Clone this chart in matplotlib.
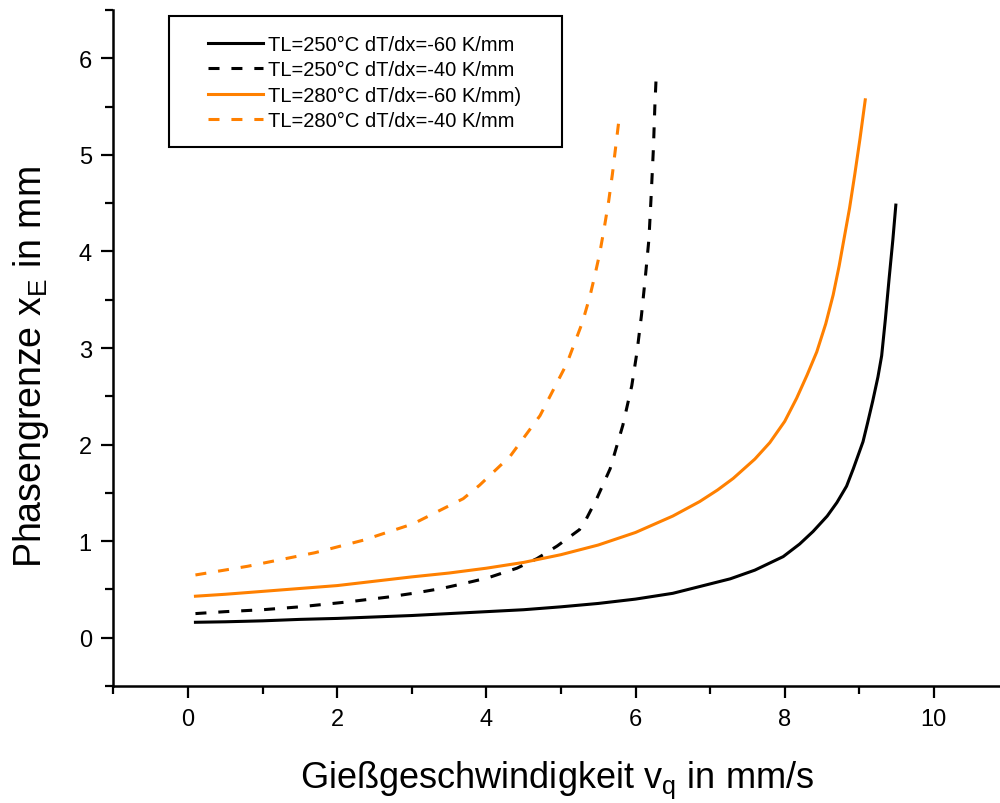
import matplotlib
matplotlib.use("Agg")
import matplotlib.pyplot as plt
from matplotlib.ticker import MultipleLocator
from matplotlib.patches import Rectangle
from matplotlib.lines import Line2D

plt.rcParams['font.family'] = ['Liberation Sans', 'DejaVu Sans']
plt.rcParams['mathtext.default'] = 'regular'

# Casting speed v_q (mm/s) and phase boundary position x_E (mm)
v_250_60 = [0.1, 0.5, 1.0, 1.5, 2.0, 2.5, 3.0, 3.5, 4.0, 4.5, 5.0, 5.5, 6.0, 6.5,
            6.86, 7.27, 7.6, 7.98, 8.2, 8.38, 8.57, 8.7, 8.83, 8.92, 9.05, 9.11,
            9.18, 9.25, 9.30, 9.35, 9.40, 9.45, 9.49]
x_250_60 = [0.16, 0.165, 0.175, 0.19, 0.20, 0.215, 0.23, 0.25, 0.27, 0.29, 0.32,
            0.355, 0.40, 0.46, 0.53, 0.61, 0.70, 0.84, 0.97, 1.10, 1.26, 1.40,
            1.57, 1.75, 2.03, 2.22, 2.45, 2.70, 2.92, 3.30, 3.72, 4.12, 4.48]

v_250_40 = [0.1, 0.5, 1.0, 1.5, 2.13, 2.67, 3.02, 3.4, 3.69, 4.02, 4.41, 4.68,
            4.95, 5.25, 5.34, 5.48, 5.66, 5.83, 5.95, 6.02, 6.08, 6.13, 6.18,
            6.21, 6.24, 6.26, 6.28]
x_250_40 = [0.25, 0.27, 0.29, 0.32, 0.37, 0.42, 0.46, 0.51, 0.56, 0.62, 0.72, 0.82,
            0.95, 1.12, 1.23, 1.44, 1.75, 2.20, 2.61, 2.96, 3.34, 3.72, 4.13,
            4.58, 5.07, 5.52, 5.86]

v_280_60 = [0.1, 0.5, 1.0, 1.5, 2.0, 2.5, 3.0, 3.5, 4.0, 4.5, 5.0, 5.5, 6.0, 6.5,
            6.86, 7.1, 7.31, 7.6, 7.80, 8.0, 8.16, 8.30, 8.43, 8.55, 8.65, 8.73,
            8.80, 8.87, 8.94, 9.01, 9.08]
x_280_60 = [0.43, 0.45, 0.48, 0.51, 0.54, 0.585, 0.63, 0.67, 0.72, 0.78, 0.86,
            0.96, 1.09, 1.26, 1.41, 1.53, 1.65, 1.85, 2.02, 2.24, 2.48, 2.72,
            2.96, 3.25, 3.55, 3.85, 4.15, 4.45, 4.80, 5.17, 5.57]

v_280_40 = [0.1, 0.8, 1.7, 2.35, 3.02, 3.69, 3.91, 4.32, 4.72, 5.08, 5.29, 5.39,
            5.46, 5.52, 5.58, 5.64, 5.69, 5.74, 5.79]
x_280_40 = [0.65, 0.74, 0.88, 1.01, 1.18, 1.44, 1.58, 1.88, 2.30, 2.84, 3.27, 3.54,
            3.77, 3.98, 4.24, 4.52, 4.80, 5.12, 5.44]

labels = ["TL=250°C dT/dx=-60 K/mm",
          "TL=250°C dT/dx=-40 K/mm",
          "TL=280°C dT/dx=-60 K/mm)",
          "TL=280°C dT/dx=-40 K/mm"]

ORANGE = '#ff8000'
DASH = (0, (3.6, 3.9))
LW = 2.2

fig = plt.figure(figsize=(10, 8.04), dpi=100)
ax = fig.add_axes([0.1134, 0.1455, 0.8876, 0.8408])

ax.plot(v_250_60, x_250_60, color='black', lw=LW, ls='-')
ax.plot(v_250_40, x_250_40, color='black', lw=LW, ls=DASH)
ax.plot(v_280_60, x_280_60, color=ORANGE, lw=LW, ls='-')
ax.plot(v_280_40, x_280_40, color=ORANGE, lw=LW, ls=DASH)

ax.set_xlim(-1, 10.9)
ax.set_ylim(-0.5, 6.5)
ax.xaxis.set_major_locator(MultipleLocator(2))
ax.xaxis.set_minor_locator(MultipleLocator(1))
ax.yaxis.set_major_locator(MultipleLocator(1))
ax.yaxis.set_minor_locator(MultipleLocator(0.5))

for side in ('top', 'right'):
    ax.spines[side].set_visible(False)
for side in ('left', 'bottom'):
    ax.spines[side].set_linewidth(1.8)

ax.tick_params(which='major', direction='out', length=8.5, width=1.6,
               labelsize=17, pad=7)
ax.tick_params(which='minor', direction='out', length=5.5, width=1.6)

ax.set_xlabel("Gießgeschwindigkeit v$_{q}$ in mm/s", fontsize=26, labelpad=21)
ax.set_ylabel("Phasengrenze x$_{E}$ in mm", fontsize=27, labelpad=20, y=0.474)

# Legend box
fig.add_artist(Rectangle((0.169, 1 - 148 / 804), 0.393, 131 / 804,
                         transform=fig.transFigure, facecolor='white',
                         edgecolor='black', lw=1.5, zorder=4))
handles = [Line2D([], [], color='black', lw=LW, ls='-'),
           Line2D([], [], color='black', lw=LW, ls=DASH),
           Line2D([], [], color=ORANGE, lw=LW, ls='-'),
           Line2D([], [], color=ORANGE, lw=LW, ls=DASH)]
leg = fig.legend(handles, labels, loc='upper left',
                 bbox_to_anchor=(0.208, 1 - 36 / 804),
                 bbox_transform=fig.transFigure, frameon=False, fontsize=14.5,
                 handlelength=2.75, handletextpad=0.25, labelspacing=0.32,
                 borderpad=0, borderaxespad=0)
leg.set_zorder(5)

fig.savefig("out.png", dpi=100)
